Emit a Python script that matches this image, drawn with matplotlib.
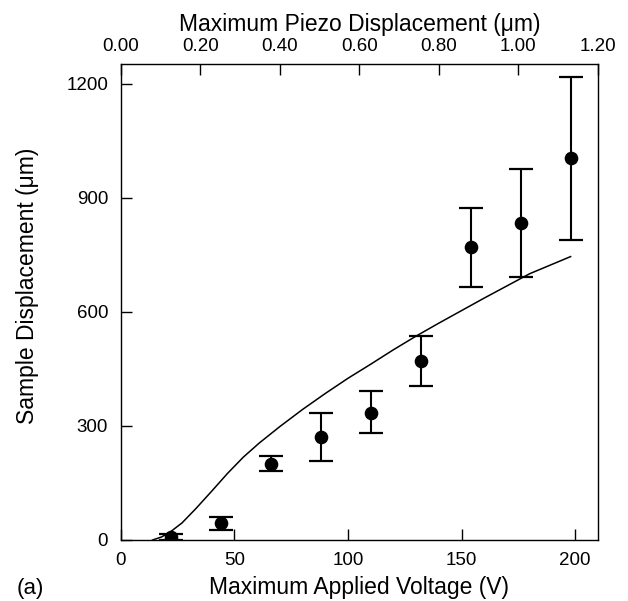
import matplotlib
matplotlib.use("Agg")
import matplotlib.pyplot as plt
import numpy as np

plt.rcParams['font.family'] = ['Liberation Sans', 'DejaVu Sans']

# measured points (V, um) with error bar ends
volts = [22, 44, 66, 88, 110, 132, 154, 176, 198]
disp = [9, 44, 201, 271, 335, 470, 771, 834, 1003]
err_top = [15, 60, 221, 333, 392, 537, 873, 976, 1216]
err_bot = [0, 26, 181, 208, 280, 405, 665, 692, 789]

# model curve
curve_v = [14, 18, 22, 27, 33, 40, 47, 54, 61, 70, 80, 90, 100, 110, 120,
           130, 140, 150, 160, 170, 180, 190, 198]
curve_y = [0, 8, 22, 45, 82, 128, 175, 218, 255, 298, 343, 385, 425, 462, 500,
           536, 570, 603, 636, 668, 700, 725, 745]

x_ticks = [0, 50, 100, 150, 200]
y_ticks = [0, 300, 600, 900, 1200]
top_ticks = [0.0, 0.2, 0.4, 0.6, 0.8, 1.0, 1.2]

fig = plt.figure(figsize=(6.28, 6.01), dpi=100)
ax = fig.add_axes([0.1922, 0.1015, 0.7598, 0.7912])

disp = np.array(disp)
yerr = [disp - np.array(err_bot), np.array(err_top) - disp]
ax.errorbar(volts, disp, yerr=yerr, fmt='o', color='black', ms=8.8,
            elinewidth=1.5, capsize=8.4, capthick=1.6)
ax.plot(curve_v, curve_y, color='black', lw=1.1)

ax.set_xlim(0, 210)
ax.set_ylim(0, 1250)
ax.set_xticks(x_ticks)
ax.set_yticks(y_ticks)
ax.tick_params(direction='in', length=8, width=1, labelsize=13.5, colors='black',
               right=False, top=False)
ax.tick_params(axis='x', pad=9)
ax.tick_params(axis='y', pad=9)
for s in ax.spines.values():
    s.set_linewidth(1.0)
    s.set_color('#333333')

ax.set_xlabel('Maximum Applied Voltage (V)', fontsize=16.5, labelpad=5)
ax.set_ylabel('Sample Displacement (\u03bcm)', fontsize=16.5)
ax.yaxis.set_label_coords(-0.172, 0.534)

top = ax.twiny()
top.set_xlim(0, 1.2)
top.set_xticks(top_ticks)
top.set_xticklabels(['%.2f' % t for t in top_ticks])
top.tick_params(direction='in', length=8, width=1, labelsize=13.5, pad=7)
top.set_xlabel('Maximum Piezo Displacement (\u03bcm)', fontsize=16.5, labelpad=5)

fig.text(0.048, 0.0216, '(a)', fontsize=16, ha='center', va='center')

fig.savefig('out.png', dpi=100)
